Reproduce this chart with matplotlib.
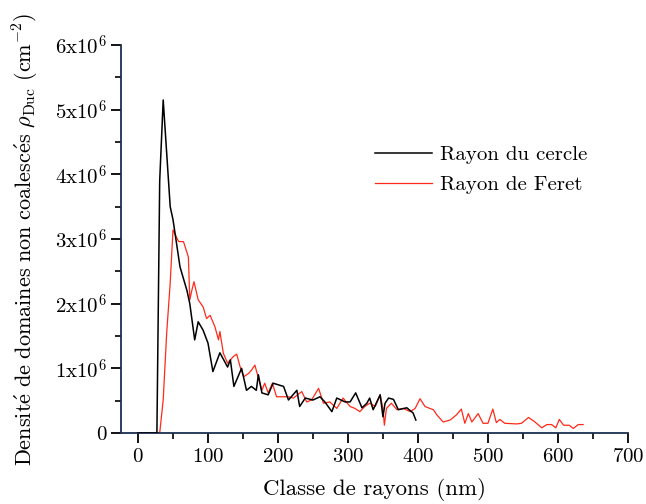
import matplotlib
matplotlib.use("Agg")
import matplotlib.pyplot as plt
from matplotlib.ticker import MultipleLocator, FixedLocator

plt.rcParams['mathtext.fontset'] = 'cm'
plt.rcParams['font.family'] = ['cmr10', 'DejaVu Serif']
plt.rcParams['axes.formatter.use_mathtext'] = True

# Rayon du cercle (black)
cercle_x = [0, 5, 10, 15, 20, 25, 27, 31, 36, 46, 50, 60, 70, 74, 81, 86, 93, 100, 107, 117,
            128, 132, 137, 148, 155, 162, 169, 172, 177, 186, 193, 208, 215, 227, 231, 239,
            250, 260, 267, 277, 284, 296, 303, 311, 320, 327, 331, 336, 346, 350, 353, 358,
            365, 372, 384, 393, 397]
cercle_y = [0, 0, 0, 0, 0, 0, 0, 3.9, 5.15, 3.5, 3.3, 2.57, 2.2, 2.0, 1.44, 1.72, 1.59, 1.39, 0.95, 1.24,
            1.02, 1.13, 0.72, 1.0, 0.66, 0.72, 0.66, 0.9, 0.62, 0.59, 0.77, 0.72, 0.51, 0.66, 0.41, 0.54,
            0.51, 0.56, 0.48, 0.33, 0.54, 0.48, 0.48, 0.62, 0.39, 0.46, 0.54, 0.36, 0.59, 0.25, 0.46, 0.54,
            0.52, 0.36, 0.39, 0.31, 0.2]

# Rayon de Feret (red)
feret_x = [0, 5, 10, 15, 20, 25, 31, 36, 41, 46, 50, 58, 65, 72, 74, 77, 80, 86, 93, 98,
           103, 110, 115, 117, 122, 128, 136, 141, 146, 151, 158, 162, 167, 172, 177, 181, 186, 192, 198, 208,
           215, 222, 234, 241, 248, 258, 265, 274, 284, 293, 303, 310, 317, 324, 331, 339, 346, 350, 352, 355,
           362, 370, 379, 389, 396, 403, 410, 417, 422, 427, 436, 446, 455, 462, 467, 472, 477, 486, 493, 500,
           507, 512, 517, 524, 541, 548, 558, 566, 577, 584, 591, 597, 602, 608, 616, 622, 629, 636]
feret_y = [0, 0, 0, 0, 0, 0, 0, 0.51, 1.55, 2.32, 3.14, 2.96, 2.96, 2.72, 2.06, 2.21, 2.34, 2.06, 1.95, 1.77,
           1.82, 1.64, 1.44, 1.57, 1.23, 1.08, 1.18, 1.22, 1.02, 0.87, 0.92, 0.97, 1.05, 0.85, 0.66, 0.77, 0.62, 0.77, 0.56, 0.56,
           0.56, 0.54, 0.64, 0.48, 0.51, 0.69, 0.46, 0.48, 0.38, 0.54, 0.41, 0.38, 0.33, 0.41, 0.46, 0.41, 0.59, 0.38, 0.12, 0.38,
           0.46, 0.36, 0.38, 0.33, 0.38, 0.53, 0.41, 0.38, 0.36, 0.28, 0.17, 0.2, 0.28, 0.37, 0.15, 0.3, 0.17, 0.3, 0.15, 0.15,
           0.37, 0.16, 0.21, 0.15, 0.14, 0.15, 0.24, 0.18, 0.08, 0.13, 0.13, 0.08, 0.21, 0.12, 0.12, 0.07, 0.13, 0.13]

x_ticks = [0, 100, 200, 300, 400, 500, 600, 700]
y_ticks = [0, 1e6, 2e6, 3e6, 4e6, 5e6, 6e6]
y_ticklabels = ['0', r'1x10$^{6}$', r'2x10$^{6}$', r'3x10$^{6}$', r'4x10$^{6}$', r'5x10$^{6}$', r'6x10$^{6}$']

fig = plt.figure(figsize=(6.46, 5.04), dpi=100)
ax = fig.add_axes([0.1873, 0.1409, 0.972 - 0.1873, 0.9107 - 0.1409])

ax.plot(cercle_x, [v * 1e6 for v in cercle_y], color='black', lw=1.1, label='Rayon du cercle', zorder=3)
ax.plot(feret_x, [v * 1e6 for v in feret_y], color='#ff2a1a', lw=0.9, label='Rayon de Feret', zorder=2)

ax.set_xlim(-24.3, 700)
ax.set_ylim(0, 6e6)
ax.xaxis.set_major_locator(FixedLocator(x_ticks))
ax.xaxis.set_minor_locator(MultipleLocator(50))
ax.yaxis.set_major_locator(FixedLocator(y_ticks))
ax.yaxis.set_minor_locator(MultipleLocator(0.5e6))
ax.set_yticklabels(y_ticklabels)

for s in ['top', 'right']:
    ax.spines[s].set_visible(False)
for s in ['left', 'bottom']:
    ax.spines[s].set_color('#1c2e50')
    ax.spines[s].set_linewidth(1.3)

ax.tick_params(which='major', direction='out', length=7, width=1.3, labelsize=15, colors='black')
ax.tick_params(which='minor', direction='out', length=4, width=1.2)

ax.set_xlabel('Classe de rayons (nm)', fontsize=16.5, labelpad=9)
ax.set_ylabel(r'$\mathrm{Densit\acute{e}\ de\ domaines\ non\ coalesc\acute{e}s}\ \rho_{\mathrm{Duc}}\ (\mathrm{cm}^{-2})$',
              fontsize=16, labelpad=10)

leg = ax.legend(loc='upper left', bbox_to_anchor=(0.465, 0.79), frameon=False, fontsize=15,
                handlelength=2.7, handletextpad=0.4, labelspacing=0.55)

fig.savefig('out.png', dpi=100)
